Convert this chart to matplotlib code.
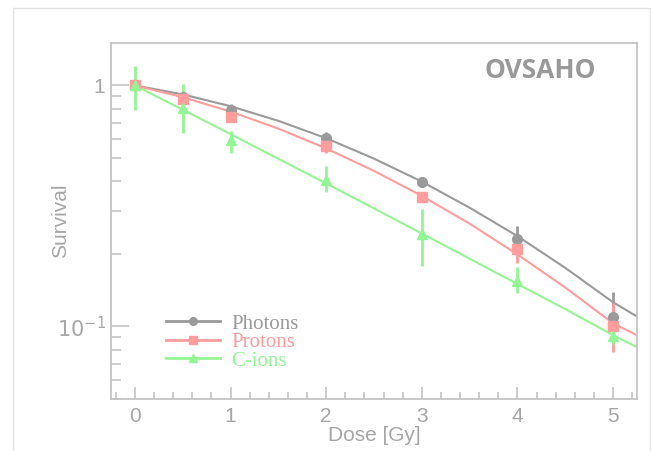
import matplotlib
matplotlib.use("Agg")
import matplotlib.pyplot as plt
from matplotlib.patches import Rectangle
from matplotlib.ticker import MultipleLocator, LogLocator, NullFormatter, FixedLocator

# measured points
dose = [0, 0.5, 1, 2, 3, 4, 5]
photons = [1.0, 0.894, 0.794, 0.605, 0.398, 0.230, 0.109]
photons_lo = [0.02, 0.02, 0.03, 0.03, 0.01, 0.03, 0.02]
photons_hi = [0.02, 0.02, 0.045, 0.035, 0.01, 0.031, 0.03]
protons = [1.0, 0.88, 0.741, 0.559, 0.346, 0.209, 0.100]
protons_lo = [0.02, 0.02, 0.03, 0.035, 0.01, 0.026, 0.022]
protons_hi = [0.02, 0.02, 0.03, 0.02, 0.01, 0.015, 0.025]
cions = [1.0, 0.807, 0.596, 0.406, 0.243, 0.155, 0.0917]
cions_lo = [0.21, 0.17, 0.072, 0.043, 0.064, 0.018, 0.007]
cions_hi = [0.20, 0.21, 0.049, 0.055, 0.063, 0.022, 0.006]

# fitted curves
fit_dose = [0, 0.5, 1, 1.5, 2, 2.5, 3, 3.5, 4, 4.5, 5, 5.25]
fit_photons = [1.0, 0.918, 0.820, 0.713, 0.604, 0.497, 0.399, 0.311, 0.237, 0.175, 0.126, 0.110]
fit_protons = [1.0, 0.894, 0.779, 0.662, 0.548, 0.442, 0.348, 0.267, 0.199, 0.145, 0.103, 0.092]
fit_cions = [1.0, 0.793, 0.628, 0.496, 0.392, 0.309, 0.243, 0.191, 0.150, 0.118, 0.092, 0.082]

labels = ['Photons', 'Protons', 'C-ions']
colors = ['#9a9a9a', '#ff9c9c', '#94f594']
markers = ['o', 's', '^']

axis_col = '#c4c4c4'
text_col = '#a6a6a6'

fig = plt.figure(figsize=(6.51, 4.51), dpi=100)
fig.patches.append(Rectangle((13 / 651, -0.1), (650 - 13) / 651, 1.1 - 8 / 451,
                             transform=fig.transFigure, fill=False,
                             edgecolor='#e2e2e2', linewidth=1))
ax = fig.add_axes([111 / 651, 1 - 399 / 451, 526 / 651, 356 / 451])

series = [(photons, photons_lo, photons_hi, fit_photons),
          (protons, protons_lo, protons_hi, fit_protons),
          (cions, cions_lo, cions_hi, fit_cions)]
handles = []
for (vals, lo, hi, fit), lab, col, mk in zip(series, labels, colors, markers):
    ax.plot(fit_dose, fit, color=col, lw=1.5, zorder=2)
    ax.errorbar(dose, vals, yerr=[lo, hi], fmt='none', ecolor=col, elinewidth=2, capsize=0, zorder=3)
    ax.plot(dose, vals, ls='none', marker=mk, ms=7, color=col, mec=col, zorder=4)
    h, = ax.plot([], [], color=col, lw=2, marker=mk, ms=5.5)
    handles.append(h)

ax.set_yscale('log')
ax.set_xlim(-0.25, 5.25)
ax.set_ylim(0.05, 1.5)

ax.xaxis.set_major_locator(MultipleLocator(1))
ax.xaxis.set_minor_locator(MultipleLocator(0.2))
ax.yaxis.set_major_locator(FixedLocator([0.1, 1]))
ax.yaxis.set_minor_locator(LogLocator(base=10, subs=range(2, 10)))
ax.yaxis.set_minor_formatter(NullFormatter())
ax.set_yticklabels(['$10^{-1}$', '1'])

for s in ax.spines.values():
    s.set_color(axis_col)
    s.set_linewidth(1.3)
ax.tick_params(which='both', direction='in', color=axis_col, width=1.2,
               top=False, right=False, labelcolor=text_col, labelsize=15)
ax.tick_params(axis='x', which='major', length=9, pad=6)
ax.tick_params(axis='x', which='minor', length=5)
ax.tick_params(axis='y', which='major', length=13, pad=4)
ax.tick_params(axis='y', which='minor', length=7)
for t in ax.get_xticklabels() + ax.get_yticklabels():
    t.set_family(['Liberation Sans', 'DejaVu Sans'])

ax.set_xlabel('Dose [Gy]', color=text_col, fontsize=15, family='Liberation Sans', labelpad=0)
ax.set_ylabel('Survival', color=text_col, fontsize=15, family='Liberation Sans')
ax.yaxis.set_label_coords(-0.078, 0.5)

leg = ax.legend(handles, labels, loc='upper left', bbox_to_anchor=(0.088, 0.262),
                frameon=False, handlelength=2.6, handletextpad=0.55, labelspacing=-0.05,
                borderaxespad=0, prop={'family': 'Liberation Serif', 'size': 15})
for t, col in zip(leg.get_texts(), colors):
    t.set_color(col)

ax.text(540, 451 - 70, 'OVSAHO', transform=None, fontsize=19, fontweight='bold',
        family='Open Sans', color='#999999', ha='center', va='center')

fig.savefig('out.png', dpi=100)
